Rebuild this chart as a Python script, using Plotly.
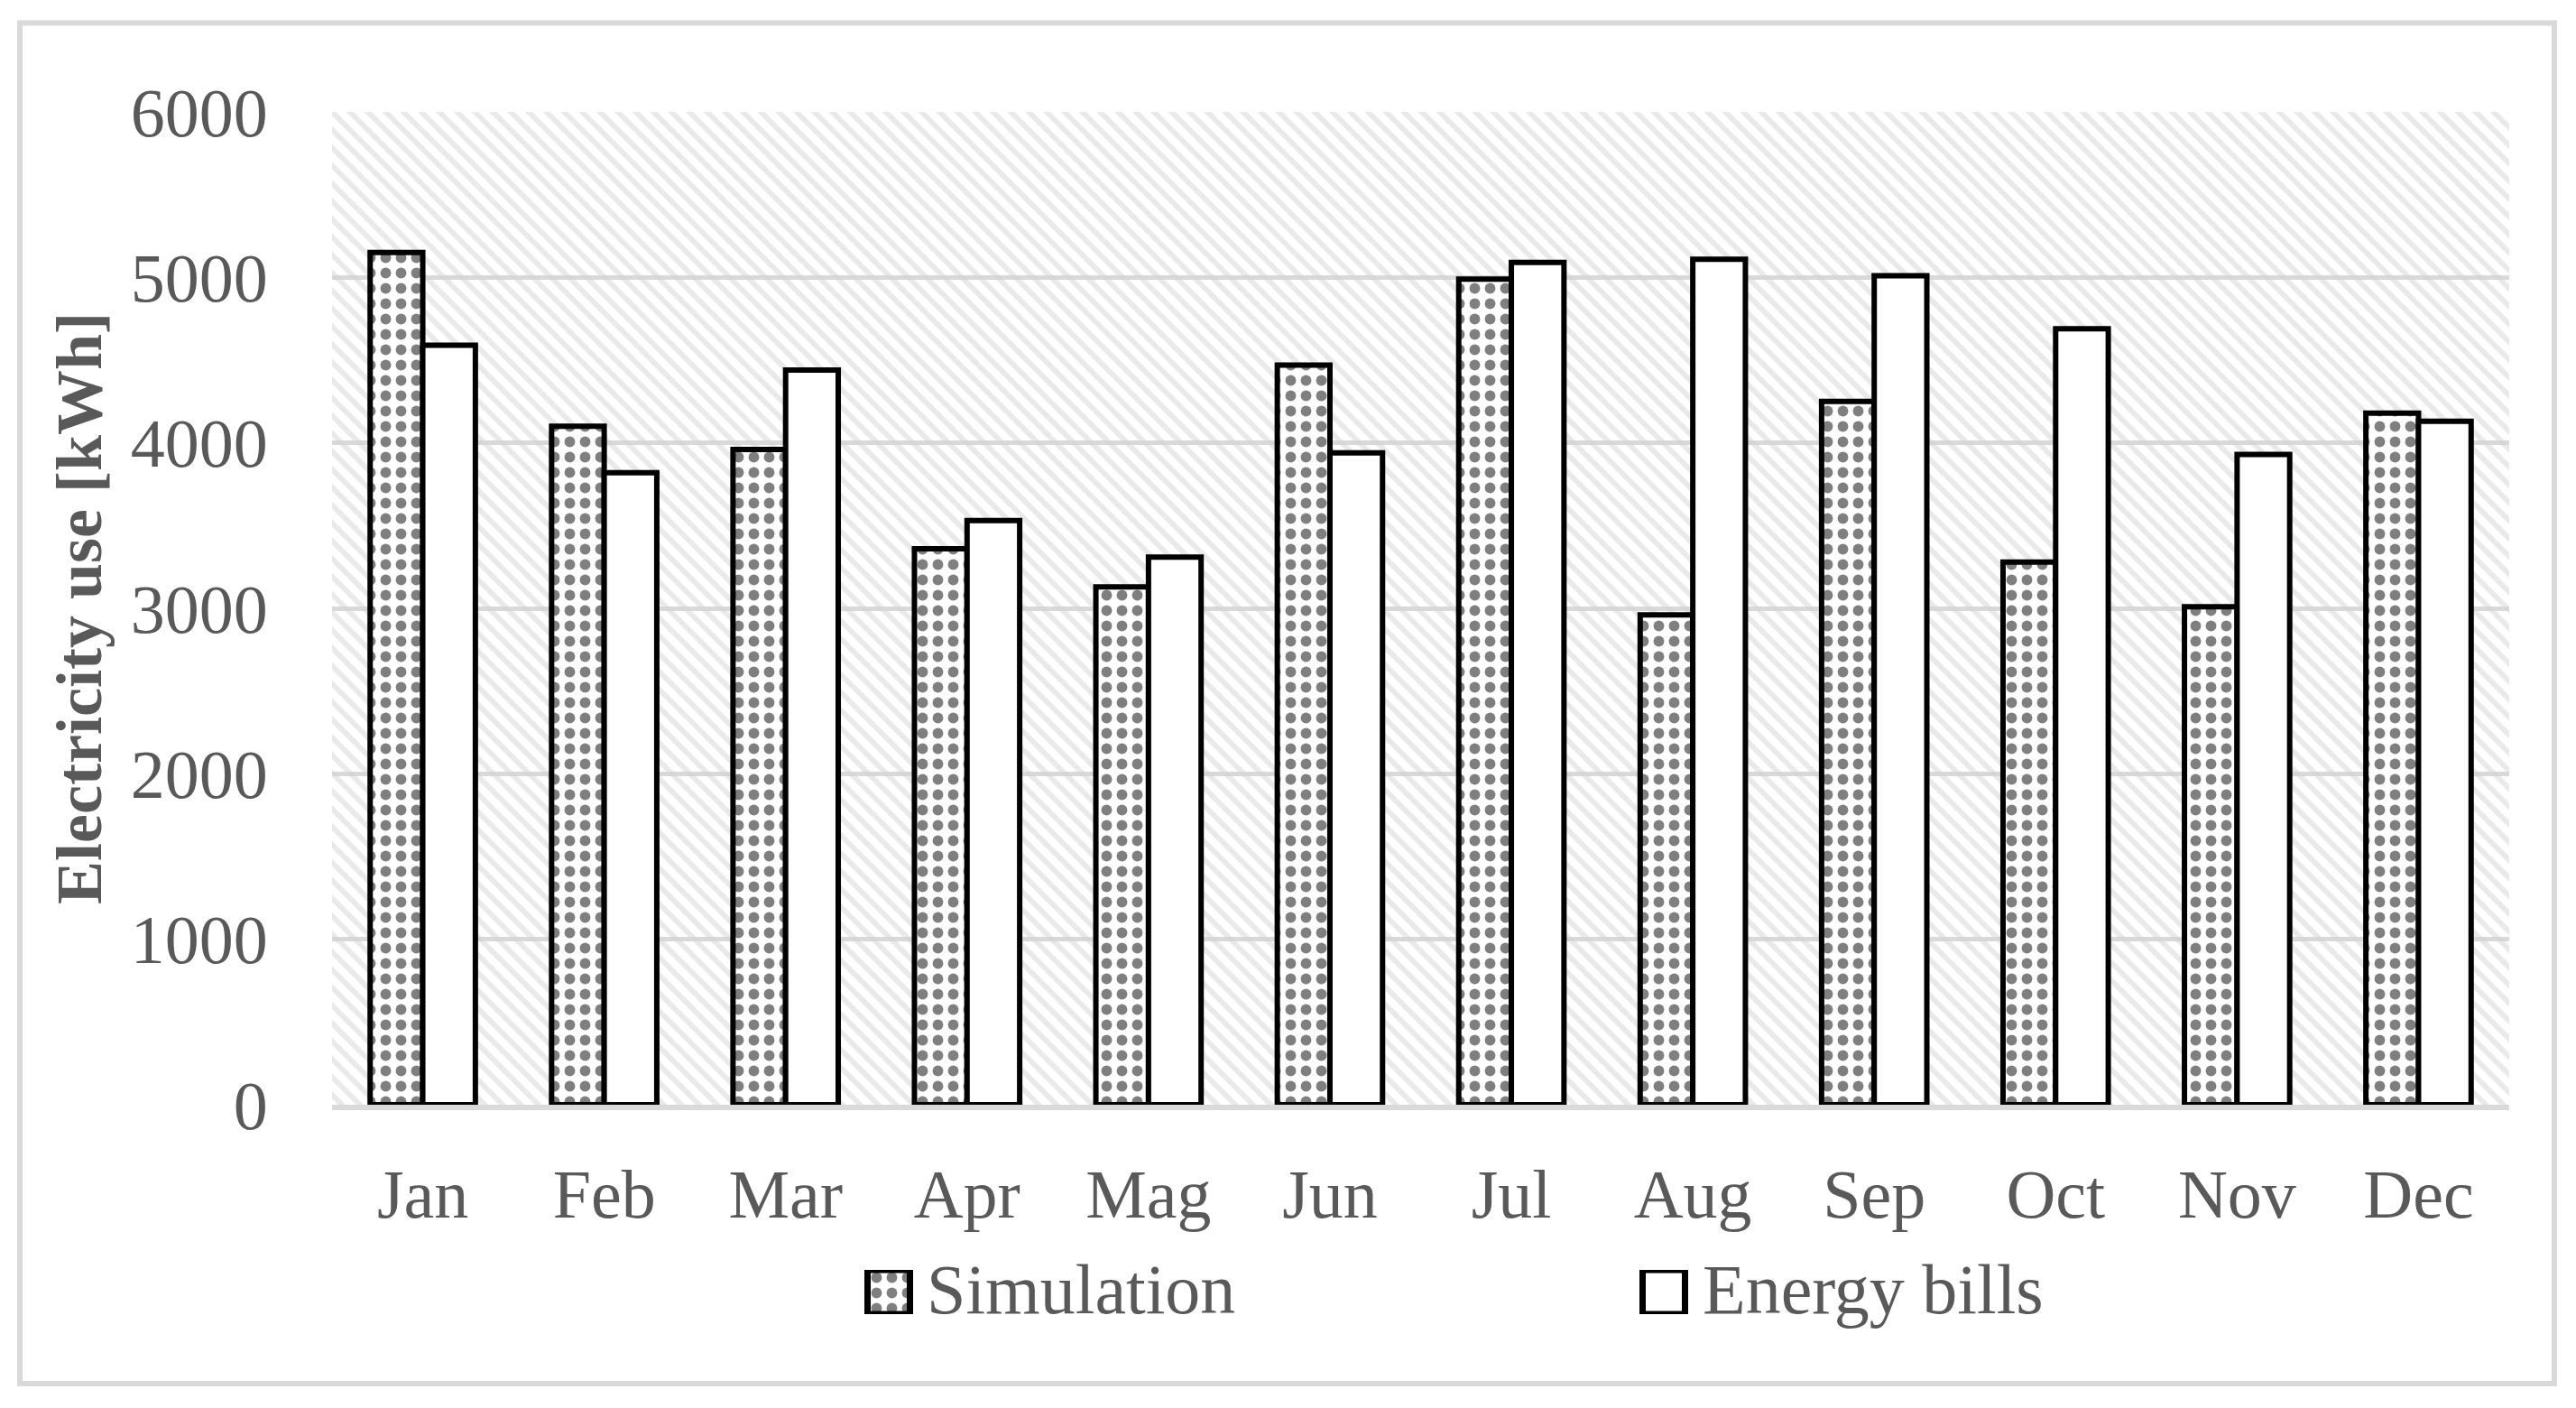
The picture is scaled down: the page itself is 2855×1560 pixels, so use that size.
import plotly.graph_objects as go

months = ["Jan", "Feb", "Mar", "Apr", "Mag", "Jun", "Jul", "Aug", "Sep", "Oct", "Nov", "Dec"]
simulation = [5150, 4100, 3960, 3360, 3130, 4470, 4990, 2960, 4250, 3280, 3010, 4180]
energy_bills = [4590, 3820, 4440, 3530, 3310, 3940, 5090, 5110, 5010, 4690, 3930, 4130]
y_ticks = [0, 1000, 2000, 3000, 4000, 5000, 6000]
series_names = ["Simulation", "Energy bills"]

# figure geometry (pixels, figure coordinates)
W, H = 2855, 1560
L, R, T, B = 360, 82, 116, 100
PW, PH = W - L - R, H - T - B
DATA_BOTTOM = 1216          # y of the value-axis zero line
PLOT_BOTTOM = H - B
KEY_TOP, KEY_BOTTOM = 1399, 1448
KEY_CENTERS = [977, 1836]
KEY_SIZE = 47
TEXT_LEFT = [1017, 1877]
LEGEND_Y = 1420

FONT = "Liberation Serif"
GRAY = "#595959"
LIGHT = "#d9d9d9"
SIM_PATTERN = dict(shape=".", fgcolor="black", bgcolor="white", size=17, solidity=0.38)


def py(yfig):
    return (PLOT_BOTTOM - yfig) / PH


def px(xfig):
    return (xfig - L) / PW


fig = go.Figure()

# hatched plot-area background on hidden main axes (drawn beneath the bars)
fig.add_trace(go.Scatter(
    x=[0, 1, 1, 0, 0], y=[0, 0, 1, 1, 0], xaxis="x", yaxis="y",
    mode="lines", line=dict(width=0), fill="toself",
    fillcolor="rgba(0,0,0,0)",
    fillpattern=dict(shape="\\", fgcolor="#d4d4d4", bgcolor="rgba(0,0,0,0)", size=14, solidity=0.42),
    showlegend=False, hoverinfo="skip",
))

fig.add_trace(go.Bar(
    name=series_names[0], x=months, y=simulation, xaxis="x2", yaxis="y2",
    marker=dict(color="white", line=dict(color="black", width=6), pattern=SIM_PATTERN),
    showlegend=False,
))
fig.add_trace(go.Bar(
    name=series_names[1], x=months, y=energy_bills, xaxis="x2", yaxis="y2",
    marker=dict(color="white", line=dict(color="black", width=6)),
    showlegend=False,
))

# legend keys (drawn with the same fills as the bars)
for i, nm in enumerate(series_names):
    fig.add_trace(go.Bar(
        name=nm + " key", x=[KEY_CENTERS[i]], y=[1], width=[KEY_SIZE], base=[0],
        xaxis="x3", yaxis="y3",
        marker=dict(color="white", line=dict(color="black", width=7),
                    pattern=SIM_PATTERN if i == 0 else None),
        showlegend=False, hoverinfo="skip",
    ))

annotations = [
    dict(text=nm, xref="paper", yref="paper", x=px(TEXT_LEFT[i]), y=py(LEGEND_Y),
         xanchor="left", yanchor="middle", showarrow=False,
         font=dict(family=FONT, size=78, color=GRAY))
    for i, nm in enumerate(series_names)
]

fig.update_layout(
    width=W, height=H,
    margin=dict(l=L, r=R, t=T, b=B),
    paper_bgcolor="white", plot_bgcolor="rgba(0,0,0,0)",
    barmode="group", bargap=0.42, bargroupgap=0,
    font=dict(family=FONT, color=GRAY, size=76),
    showlegend=False,
    xaxis=dict(range=[0, 1], visible=False, fixedrange=True),
    yaxis=dict(range=[0, 1], visible=False, fixedrange=True, domain=[py(DATA_BOTTOM), 1]),
    xaxis2=dict(overlaying="x", side="bottom", showgrid=False,
                showline=True, linecolor=LIGHT, linewidth=6,
                ticks="outside", ticklen=28, tickcolor="rgba(0,0,0,0)",
                tickfont=dict(family=FONT, size=76, color=GRAY)),
    yaxis2=dict(overlaying="y", side="left", range=[0, 6000], tickvals=y_ticks,
                showgrid=True, gridcolor=LIGHT, gridwidth=5, zeroline=False,
                showline=False,
                ticks="outside", ticklen=55, tickcolor="rgba(0,0,0,0)",
                tickfont=dict(family=FONT, size=76, color=GRAY),
                title=dict(text="<b>Electricity use [kWh]</b>", standoff=8,
                           font=dict(family=FONT, size=72, color=GRAY))),
    xaxis3=dict(range=[L, W - R], domain=[0, 1], visible=False, fixedrange=True, anchor="y3"),
    yaxis3=dict(range=[0, 1], domain=[py(KEY_BOTTOM), py(KEY_TOP)], visible=False,
                fixedrange=True, anchor="x3"),
    annotations=annotations,
    shapes=[dict(type="rect", xref="paper", yref="paper",
                 x0=px(14), x1=px(2823), y0=py(1525), y1=py(17.5),
                 line=dict(color=LIGHT, width=6), fillcolor="rgba(0,0,0,0)", layer="below")],
)

fig.write_html("out.html")
